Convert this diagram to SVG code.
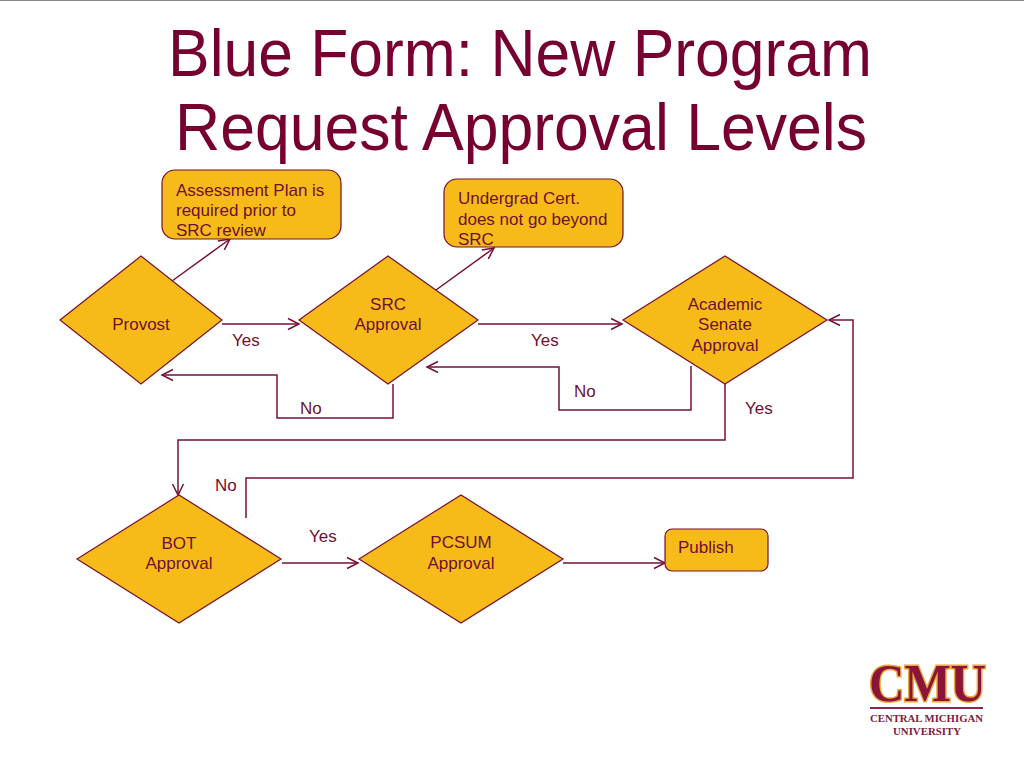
<svg xmlns="http://www.w3.org/2000/svg" width="1024" height="768" viewBox="0 0 1024 768">
<style>
text{font-family:"Liberation Sans",Arial,sans-serif;fill:#6f0f34;font-size:17px}
.t{font-size:66px;fill:#76002f}
.c{text-anchor:middle}
.n{fill:#f6bb18;stroke:#76102f;stroke-width:1.2}
.l{fill:none;stroke:#76103a;stroke-width:1.5;marker-end:url(#a)}
.logo{font-family:"Liberation Serif",serif;font-weight:bold}
.sub{font-size:10.5px;fill:#7a2040}
</style>
<defs><marker id="a" markerUnits="userSpaceOnUse" markerWidth="14" markerHeight="14" refX="12" refY="6" orient="auto" viewBox="0 0 14 12"><path d="M1 0.5L12 6L1 11.5" fill="none" stroke="#76103a" stroke-width="1.5"/></marker></defs>
<rect width="1024" height="768" fill="#fff"/>
<rect width="1024" height="1" fill="#888"/>
<text class="t" x="168" y="76" textLength="704" lengthAdjust="spacingAndGlyphs">Blue Form: New Program</text>
<text class="t" x="175" y="150" textLength="692" lengthAdjust="spacingAndGlyphs">Request Approval Levels</text>
<g id="connectors">
<path class="l" d="M172 281L230 239"/>
<path class="l" d="M436 290L494 248"/>
<path class="l" d="M222 324H299"/>
<path class="l" d="M478 324H622"/>
<path class="l" d="M393 384V418H277V375H162"/>
<path class="l" d="M691 366V410H559V367H427"/>
<path class="l" d="M725 384V440H178V495"/>
<path class="l" d="M246 518V478H853V320H829"/>
<path class="l" d="M282 563H358"/>
<path class="l" d="M563 563H665"/>
</g>
<g id="note1"><rect class="n" x="162" y="170" width="179" height="69" rx="13"/><text x="176" y="195.500">Assessment Plan is</text><text x="176" y="216">required prior to</text><text x="176" y="236">SRC review</text></g>
<g id="note2"><rect class="n" x="444" y="179" width="179" height="68" rx="13"/><text x="458" y="204">Undergrad Cert.</text><text x="458" y="225">does not go beyond</text><text x="458" y="245">SRC</text></g>
<g id="provost"><polygon class="n" points="60,320 141,256 222,320 141,384"/><text class="c" x="141" y="330">Provost</text></g>
<g id="src"><polygon class="n" points="299,320 388,256 478,320 388,384"/><text class="c" x="388" y="310">SRC</text><text class="c" x="388" y="330">Approval</text></g>
<g id="senate"><polygon class="n" points="623,320 725,256 827,320 725,384"/><text class="c" x="725" y="310">Academic</text><text class="c" x="725" y="330">Senate</text><text class="c" x="725" y="351">Approval</text></g>
<g id="bot"><polygon class="n" points="77,559 179,495 281,559 179,623"/><text class="c" x="179" y="549">BOT</text><text class="c" x="179" y="569">Approval</text></g>
<g id="pcsum"><polygon class="n" points="359,559 461,495 563,559 461,623"/><text class="c" x="461" y="548">PCSUM</text><text class="c" x="461" y="569">Approval</text></g>
<g id="publish"><rect class="n" x="665" y="529" width="103" height="42" rx="7"/><text x="678" y="553">Publish</text></g>
<g id="labels">
<text x="232" y="346">Yes</text><text x="531" y="346">Yes</text><text x="745" y="414">Yes</text><text x="309" y="542">Yes</text>
<text x="300" y="414">No</text><text x="574" y="397">No</text><text x="215" y="491">No</text>
</g>
<g id="logo">
<text class="logo" x="869" y="701" textLength="117" lengthAdjust="spacingAndGlyphs" style="font-size:52px;fill:#8a1538;stroke:#eaa83c;stroke-width:3;paint-order:stroke">CMU</text>
<rect x="870" y="707" width="113" height="2" fill="#8a2a4a"/>
<text class="logo sub" x="870" y="722" textLength="113" lengthAdjust="spacingAndGlyphs">CENTRAL MICHIGAN</text>
<text class="logo sub" x="893" y="735" textLength="68" lengthAdjust="spacingAndGlyphs">UNIVERSITY</text>
</g>
</svg>
